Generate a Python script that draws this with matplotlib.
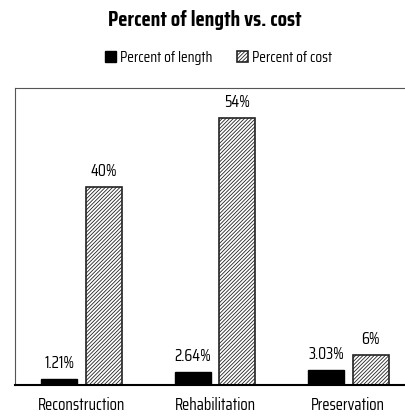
import matplotlib
matplotlib.use("Agg")
from matplotlib import pyplot as plt
import numpy as np

categories = ["Reconstruction", "Rehabilitation", "Preservation"]
pct_length = [1.21, 2.64, 3.03]
pct_cost = [40, 54, 6]
length_labels = ["1.21%", "2.64%", "3.03%"]
cost_labels = ["40%", "54%", "6%"]

plt.rcParams['font.family'] = ['Saira Condensed', 'DejaVu Sans']
plt.rcParams['hatch.color'] = '#bcbcbc'
plt.rcParams['hatch.linewidth'] = 0.6

fig = plt.figure(figsize=(4.05, 4.17), dpi=100)
ax = fig.add_axes([15/405, 1-385/417, 400/405, 297/417])

x = np.arange(len(categories))
w = 0.27
off = 0.167
ax.bar(x - off, pct_length, w, color='black', edgecolor='black', label='Percent of length')
ax.bar(x + off, pct_cost, w, color='white', edgecolor='#222222', hatch='/////////',
       linewidth=1.2, label='Percent of cost')

# value labels over each bar
for i in range(len(categories)):
    ax.text(x[i] - off, pct_length[i] + 1.6, length_labels[i], ha='center', va='bottom', fontsize=12)
    ax.text(x[i] + off, pct_cost[i] + 1.6, cost_labels[i], ha='center', va='bottom', fontsize=12)

ax.set_xlim(-0.5, 2.5)
ax.set_ylim(0, 60)
ax.set_yticks([])
ax.set_xticks(x)
ax.set_xticklabels(categories, fontsize=12)
ax.tick_params(axis='x', length=0, pad=9)
for s in ['left', 'top', 'right']:
    ax.spines[s].set_linewidth(0.8)
    ax.spines[s].set_color('#555555')
ax.spines['bottom'].set_linewidth(1.5)

fig.text(0.505, 1-20/417, "Percent of length vs. cost", ha='center', va='center',
         fontsize=15.5, fontweight='bold')
fig.legend(loc='center', bbox_to_anchor=(0.54, 1-58/417), ncol=2, frameon=False,
           fontsize=11, handlelength=0.7, handleheight=0.7, handletextpad=0.3, columnspacing=1.6)

plt.savefig("out.png", dpi=100)
